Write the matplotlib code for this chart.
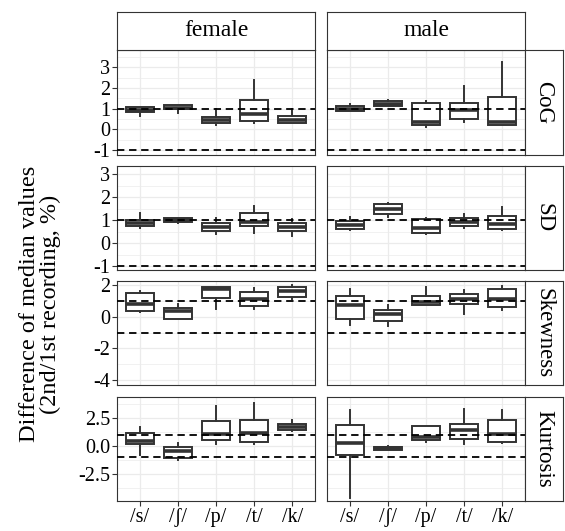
import numpy as np
import matplotlib
matplotlib.use("Agg")
import matplotlib.pyplot as plt

plt.rcParams["font.family"] = ["Liberation Serif", "DejaVu Serif"]
plt.rcParams["lines.scale_dashes"] = False

W, H = 565, 531

# ── data: [lower whisker, q1, median, q3, upper whisker] per phoneme ─────────
phonemes = ["/s/", "/ʃ/", "/p/", "/t/", "/k/"]
genders = ["female", "male"]
measures = ["CoG", "SD", "Skewness", "Kurtosis"]

cog_female = [[0.65, 0.84, 0.95, 1.08, 1.10],
              [0.79, 0.97, 1.05, 1.16, 1.18],
              [0.19, 0.31, 0.45, 0.60, 1.00],
              [0.32, 0.42, 0.72, 1.43, 2.40],
              [0.30, 0.32, 0.43, 0.64, 1.00]]
cog_male = [[0.90, 0.90, 1.00, 1.11, 1.21],
            [1.14, 1.14, 1.24, 1.35, 1.40],
            [0.11, 0.19, 0.35, 1.27, 1.35],
            [0.35, 0.48, 0.92, 1.27, 2.09],
            [0.23, 0.23, 0.36, 1.59, 3.24]]
sd_female = [[0.66, 0.73, 0.87, 1.02, 1.32],
             [0.89, 0.90, 0.99, 1.09, 1.10],
             [0.38, 0.51, 0.70, 0.89, 1.09],
             [0.45, 0.76, 0.92, 1.32, 1.62],
             [0.29, 0.51, 0.70, 0.87, 1.06]]
sd_male = [[0.58, 0.63, 0.80, 0.98, 1.14],
           [1.14, 1.27, 1.48, 1.72, 1.75],
           [0.38, 0.44, 0.66, 1.05, 1.09],
           [0.66, 0.74, 0.92, 1.08, 1.25],
           [0.56, 0.63, 0.85, 1.19, 1.59]]
skew_female = [[0.32, 0.38, 0.80, 1.48, 1.65],
               [-0.15, -0.15, 0.35, 0.55, 0.80],
               [0.49, 1.17, 1.76, 1.90, 1.90],
               [0.49, 0.70, 1.12, 1.55, 1.84],
               [1.12, 1.23, 1.61, 1.86, 1.97]]
skew_male = [[-0.53, -0.15, 0.74, 1.29, 1.76],
             [-0.61, -0.28, 0.20, 0.42, 0.74],
             [0.76, 0.76, 0.91, 1.29, 1.90],
             [0.17, 0.78, 1.12, 1.42, 1.69],
             [0.43, 0.64, 1.13, 1.72, 1.94]]
kurt_female = [[-0.83, 0.15, 0.45, 1.19, 1.70],
               [-1.25, -1.04, -0.45, -0.09, 0.30],
               [0.20, 0.54, 1.04, 2.23, 3.57],
               [0.15, 0.36, 1.19, 2.29, 3.78],
               [1.34, 1.40, 1.70, 1.93, 2.32]]
kurt_male = [[-4.61, -0.80, 0.30, 1.85, 3.18],
             [-0.36, -0.33, -0.20, -0.06, -0.03],
             [0.36, 0.51, 0.80, 1.79, 1.79],
             [0.20, 0.60, 1.40, 1.93, 3.27],
             [0.24, 0.33, 1.09, 2.27, 3.20]]

panel_data = {
    "CoG": [cog_female, cog_male],
    "SD": [sd_female, sd_male],
    "Skewness": [skew_female, skew_male],
    "Kurtosis": [kurt_female, kurt_male],
}
ref_lines = [1, -1]

ylims = {"CoG": (-1.24, 3.84), "SD": (-1.17, 3.36),
         "Skewness": (-4.3, 2.25), "Kurtosis": (-4.88, 4.34)}
yticks = {"CoG": [-1, 0, 1, 2, 3], "SD": [-1, 0, 1, 2, 3],
          "Skewness": [-4, -2, 0, 2], "Kurtosis": [-2.5, 0, 2.5]}
ytick_labels = {"CoG": ["-1", "0", "1", "2", "3"], "SD": ["-1", "0", "1", "2", "3"],
                "Skewness": ["-4", "-2", "0", "2"], "Kurtosis": ["-2.5", "0.0", "2.5"]}

# ── layout in pixels ─────────────────────────────────────────────────────────
col_x = [(117, 315), (327, 525)]
row_y = [(50, 155), (166, 270), (281, 385), (397, 501)]
strip_top = (12, 50)
strip_right = (525, 563)

DARK = "#333333"
GRID = "#EBEBEB"


def rect(x0, y0, x1, y1):
    return [x0 / W, 1 - y1 / H, (x1 - x0) / W, (y1 - y0) / H]


fig = plt.figure(figsize=(W / 100, H / 100), dpi=100)

for ri, m in enumerate(measures):
    for ci, g in enumerate(genders):
        y0, y1 = row_y[ri]
        x0, x1 = col_x[ci]
        ax = fig.add_axes(rect(x0, y0, x1, y1))
        stats = [dict(whislo=v[0], q1=v[1], med=v[2], q3=v[3], whishi=v[4], fliers=[])
                 for v in panel_data[m][ci]]
        ax.bxp(stats, positions=range(1, 6), widths=0.75, showcaps=False,
               patch_artist=True, manage_ticks=False,
               boxprops=dict(facecolor="white", edgecolor=DARK, linewidth=1.4),
               medianprops=dict(color=DARK, linewidth=2.6, solid_capstyle="butt"),
               whiskerprops=dict(color=DARK, linewidth=1.4), zorder=2)
        for r in ref_lines:
            ax.axhline(r, color="black", lw=1.3, ls=(0, (5.3, 3.4)), zorder=3)

        lo, hi = ylims[m]
        ax.set_ylim(lo, hi)
        ax.set_xlim(0.4, 5.6)
        yt = yticks[m]
        ax.set_yticks(yt)
        step = yt[1] - yt[0]
        minors = np.arange(yt[0] - step / 2, hi, step)
        ax.set_yticks([v for v in minors if lo < v < hi], minor=True)
        ax.set_xticks(range(1, 6))
        ax.grid(True, which="major", color=GRID, lw=0.9, zorder=0)
        ax.grid(True, which="minor", axis="y", color=GRID, lw=0.5, zorder=0)
        ax.set_axisbelow(True)
        for s in ax.spines.values():
            s.set_color(DARK)
            s.set_linewidth(0.8)
        ax.tick_params(which="minor", length=0)
        ax.tick_params(which="major", color=DARK, length=3.5, width=0.8,
                       labelsize=14.5, pad=1.5, labelcolor="black")
        if ci == 0:
            ax.set_yticklabels(ytick_labels[m])
        else:
            ax.tick_params(axis="y", length=0, labelleft=False)
        if ri == len(measures) - 1:
            ax.set_xticklabels(phonemes)
        else:
            ax.tick_params(axis="x", length=0, labelbottom=False)

    # right strip
    sa = fig.add_axes(rect(strip_right[0], row_y[ri][0], strip_right[1], row_y[ri][1]))
    sa.set_xticks([]); sa.set_yticks([])
    for s in sa.spines.values():
        s.set_color(DARK); s.set_linewidth(0.8)
    sa.text(0.5, 0.5, m, rotation=-90, ha="center", va="center",
            fontsize=16.5, transform=sa.transAxes)

# top strips
for ci, g in enumerate(genders):
    sa = fig.add_axes(rect(col_x[ci][0], strip_top[0], col_x[ci][1], strip_top[1]))
    sa.set_xticks([]); sa.set_yticks([])
    for s in sa.spines.values():
        s.set_color(DARK); s.set_linewidth(0.8)
    sa.text(0.5, 0.5, g, ha="center", va="center", fontsize=17,
            transform=sa.transAxes)

fig.text(40 / W, 1 - 304 / H, "Difference of median values\n(2nd/1st recording, %)",
         rotation=90, ha="center", va="center", fontsize=17.5, linespacing=0.95)

fig.savefig("out.png", dpi=100)
